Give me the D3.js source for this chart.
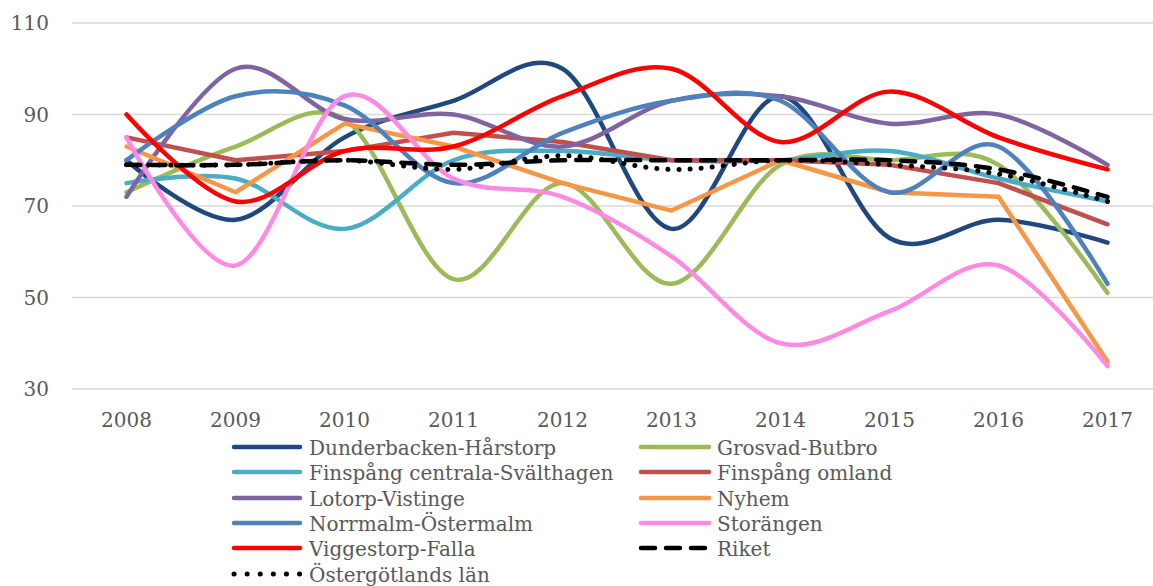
<!DOCTYPE html>
<html>
<head>
<meta charset="utf-8">
<script src="https://cdn.jsdelivr.net/npm/d3@7"></script>
<style>
  html, body { margin: 0; padding: 0; background: #fff; }
  svg { display: block; }
  text { font-family: "DejaVu Serif", serif; fill: #595959; }
</style>
</head>
<body>
<svg id="chart" width="1153" height="586"></svg>
<script>
const years = ["2008","2009","2010","2011","2012","2013","2014","2015","2016","2017"];
const yTicks = [30, 50, 70, 90, 110];

const dunderbacken = [80, 67, 85, 93, 100, 65, 94, 63, 67, 62];
const grosvad      = [73, 83, 89, 54, 75, 53, 79, 80, 79, 51];
const finspangC    = [75, 76, 65, 80, 82, 80, 80, 82, 76, 71];
const finspangO    = [85, 80, 82, 86, 84, 80, 80, 79, 75, 66];
const lotorp       = [72, 100, 89, 90, 83, 93, 94, 88, 90, 79];
const nyhem        = [83, 73, 88, 83, 75, 69, 80, 73, 72, 36];
const norrmalm     = [80, 94, 92, 75, 86, 93, 93, 73, 83, 53];
const storangen    = [85, 57, 94, 76, 72, 59, 40, 47, 57, 35];
const viggestorp   = [90, 71, 82, 83, 94, 100, 84, 95, 85, 78];
const riket        = [79, 79, 80, 79, 80, 80, 80, 80, 78, 72];
const ostergotland = [79, 79, 80, 78, 81, 78, 80, 79, 77, 71];

const seriesNames = ["Dunderbacken-Hårstorp","Grosvad-Butbro","Finspång centrala-Svälthagen","Finspång omland",
  "Lotorp-Vistinge","Nyhem","Norrmalm-Östermalm","Storängen","Viggestorp-Falla","Riket","Östergötlands län"];
const seriesValues = [dunderbacken, grosvad, finspangC, finspangO, lotorp, nyhem, norrmalm, storangen, viggestorp, riket, ostergotland];
const seriesColors = ["#1F497D","#9BBB59","#4BACC6","#C0504D","#8064A2","#F79646","#4F81BD","#FF8AE3","#FF0000","#000000","#000000"];
const seriesSmooth = [true, true, true, false, true, false, true, true, true, true, true];
const seriesDash = [null,null,null,null,null,null,null,null,null,"14,11","0.1,11"];

const svg = d3.select("#chart");
const x = d3.scalePoint().domain(years).range([72, 1162]).padding(0.5);
const y = d3.scaleLinear().domain([30, 110]).range([389, 23]);

// gridlines
svg.append("g").selectAll("line").data(yTicks).join("line")
  .attr("x1", 72).attr("x2", 1153)
  .attr("y1", d => y(d)).attr("y2", d => y(d))
  .attr("stroke", "#d9d9d9").attr("stroke-width", 1.5);

// y labels
svg.append("g").selectAll("text").data(yTicks).join("text")
  .attr("x", 49).attr("y", d => y(d)).attr("dy", "0.36em")
  .attr("text-anchor", "end").attr("font-size", 20)
  .text(d => d);

// x labels
svg.append("g").selectAll("text").data(years).join("text")
  .attr("x", d => x(d)).attr("y", 427)
  .attr("text-anchor", "middle").attr("font-size", 20)
  .text(d => d);

// lines
const lineG = svg.append("g");
seriesValues.forEach((vals, i) => {
  const gen = d3.line()
    .x((d, j) => x(years[j]))
    .y(d => y(d))
    .curve(seriesSmooth[i] ? d3.curveCatmullRom.alpha(0) : d3.curveLinear);
  const p = lineG.append("path")
    .attr("d", gen(vals))
    .attr("fill", "none")
    .attr("stroke", seriesColors[i])
    .attr("stroke-width", seriesDash[i] && i === 10 ? 5 : 4.5)
    .attr("stroke-linecap", "round")
    .attr("stroke-linejoin", "round");
  if (seriesDash[i]) p.attr("stroke-dasharray", seriesDash[i]);
});

// legend
const rowsY = [447, 472, 498, 523, 548, 574];
const colX = [{ l1: 232, l2: 302, t: 309 }, { l1: 639, l2: 711, t: 717 }];
const leg = svg.append("g");
seriesNames.forEach((name, i) => {
  const row = Math.floor(i / 2), col = i % 2;
  const cy = rowsY[row], c = colX[col];
  const ln = leg.append("line")
    .attr("x1", c.l1 + 2).attr("x2", c.l2 - 2)
    .attr("y1", cy).attr("y2", cy)
    .attr("stroke", seriesColors[i])
    .attr("stroke-width", i === 10 ? 5 : 4.5)
    .attr("stroke-linecap", "round");
  if (i === 9) ln.attr("stroke-dasharray", "14,11");
  if (i === 10) ln.attr("stroke-dasharray", "0.1,13");
  leg.append("text")
    .attr("x", c.t).attr("y", cy + 8)
    .attr("font-size", 20)
    .text(name);
});
</script>
</body>
</html>
